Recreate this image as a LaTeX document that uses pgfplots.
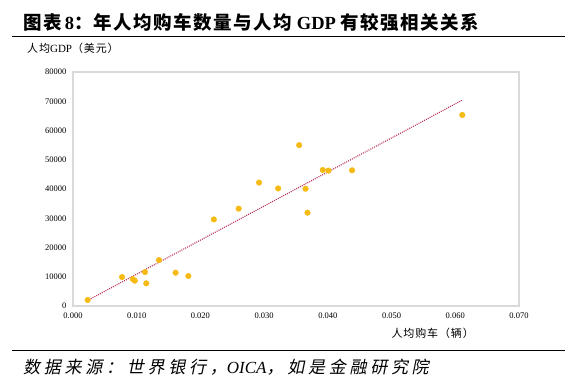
\documentclass[border=0pt]{standalone}
\usepackage{fontspec}
\setmainfont{Liberation Serif}
\newfontfamily\cjk{Noto Sans CJK SC}
\newfontfamily\cjkt[LetterSpace=8]{Noto Sans CJK SC}
\newfontfamily\cjkl[LetterSpace=8]{Noto Sans CJK SC}
\newfontfamily\cjkit[FakeSlant=0.2,LetterSpace=22]{Noto Sans CJK SC}
\usepackage{pgfplots}
\pgfplotsset{compat=1.18}
\definecolor{dotc}{RGB}{247,186,20}
\definecolor{trend}{RGB}{185,45,80}
\definecolor{frame}{RGB}{217,217,217}
\begin{document}
\begin{tikzpicture}[x=1pt,y=1pt]
\useasboundingbox (0,0) rectangle (577,-384);
\node[anchor=west,inner sep=0] at (23,-22) {\fontsize{18.5}{21}\selectfont\bfseries{\cjkt 图表}\,8{\cjkt ：年人均购车数量与人均} GDP {\cjkt 有较强相关关系}};
\draw[line width=1pt] (12,-36) -- (565,-36);
\draw[line width=1pt] (12,-350) -- (565,-350);
\node[anchor=west,inner sep=0] at (27,-48) {\fontsize{11}{13}\selectfont{\cjkl 人均}GDP{\cjkl （美元）}};
\node[anchor=east,inner sep=0] at (474,-333) {\fontsize{11}{13}\selectfont{\cjkl 人均购车（辆）}};
\node[anchor=west,inner sep=0] at (23,-367) {\fontsize{17}{19}\selectfont{\cjkit 数据来源：世界银行，}\textit{OICA}{\cjkit ，如是金融研究院}};
\begin{axis}[
  at={(73pt,-306pt)}, anchor=south west,
  scale only axis, width=446pt, height=234pt,
  xmin=0, xmax=0.07, ymin=0, ymax=80000,
  xtick={0,0.01,...,0.07}, ytick={0,10000,...,80000},
  axis line style={frame, line width=1.2pt},
  major tick length=0pt,
  tick label style={font=\fontsize{8.5}{10}\selectfont},
  /pgf/number format/assume math mode=true,
  xticklabel style={/pgf/number format/.cd, fixed, fixed zerofill, precision=3},
  yticklabel style={/pgf/number format/.cd, fixed, 1000 sep={}},
  scaled x ticks=false, scaled y ticks=false,
  xticklabel shift=3pt, yticklabel shift=3pt,
  clip=false,
]
\addplot[trend, line width=1.1pt, dash pattern=on 1pt off 1.1pt] coordinates {(0.0022,1800) (0.0611,70400)};
\addplot[only marks, color=dotc, mark=*, mark size=2.8pt, mark options={draw=dotc, fill=dotc}] coordinates {
(0.0023,2050) (0.0077,9900) (0.0094,9200) (0.0097,8650) (0.0113,11600)
(0.0115,7750) (0.0135,15700) (0.0161,11400) (0.0181,10250) (0.0221,29600)
(0.0260,33300) (0.0292,42200) (0.0322,40200) (0.0355,55000) (0.0365,40100)
(0.0368,31900) (0.0392,46500) (0.0401,46300) (0.0438,46400) (0.0611,65300)
};
\end{axis}
\end{tikzpicture}
\end{document}
